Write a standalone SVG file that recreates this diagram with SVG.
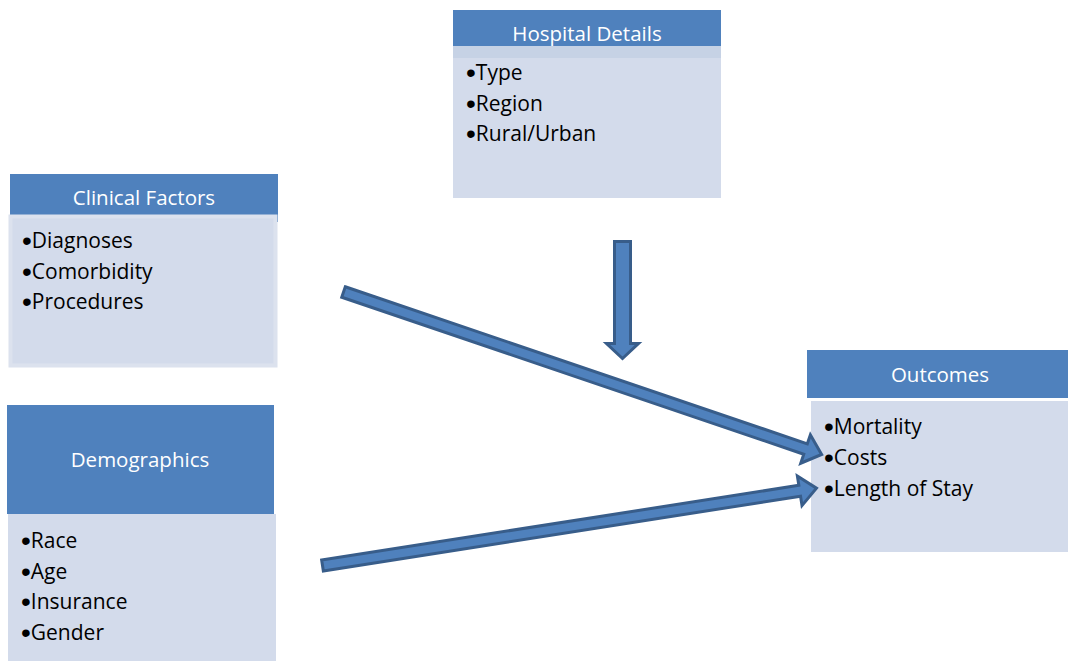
<svg xmlns="http://www.w3.org/2000/svg" width="1068" height="661" viewBox="0 0 1068 661">
  <style>
    .hdr { fill: #4F81BD; }
    .body { fill: #D3DBEB; }
    .title { font-family: "Open Sans", "Liberation Sans", sans-serif; font-size: 20.5px; fill: #FFFFFF; text-anchor: middle; }
    .item { font-family: "Open Sans", "Liberation Sans", sans-serif; font-size: 21px; fill: #000000; }
    .b { font-family: "Liberation Sans", sans-serif; font-size: 28px; }
    .arrow { fill: #4F81BD; stroke: #385D8A; stroke-width: 3; stroke-linejoin: miter; }
  </style>
  <rect width="1068" height="661" fill="#FFFFFF"/>

  <!-- Hospital Details -->
  <g id="hospital-details">
    <rect class="body" x="453" y="46" width="268" height="152"/>
    <rect x="453" y="46" width="268" height="12" fill="#C6D2E5"/>
    <rect class="hdr" x="453" y="10" width="268" height="36"/>
    <text class="title" x="587" y="41">Hospital Details</text>
    <text class="item" x="466" y="80"><tspan class="b" baseline-shift="-2">•</tspan>Type</text>
    <text class="item" x="466" y="111"><tspan class="b" baseline-shift="-2">•</tspan>Region</text>
    <text class="item" x="466" y="141"><tspan class="b" baseline-shift="-2">•</tspan>Rural/Urban</text>
  </g>

  <!-- Clinical Factors -->
  <g id="clinical-factors">
    <rect class="hdr" x="10" y="174" width="268" height="48"/>
    <rect class="body" x="10.5" y="216.5" width="265" height="149" stroke="#DCE2EE" stroke-width="4"/>
    <text class="title" x="144" y="205">Clinical Factors</text>
    <text class="item" x="22" y="248"><tspan class="b" baseline-shift="-2">•</tspan>Diagnoses</text>
    <text class="item" x="22" y="278.5"><tspan class="b" baseline-shift="-2">•</tspan>Comorbidity</text>
    <text class="item" x="22" y="309"><tspan class="b" baseline-shift="-2">•</tspan>Procedures</text>
  </g>

  <!-- Demographics -->
  <g id="demographics">
    <rect class="body" x="8" y="514" width="268" height="147"/>
    <rect class="hdr" x="7" y="405" width="267" height="109"/>
    <text class="title" x="140" y="467">Demographics</text>
    <text class="item" x="21" y="548"><tspan class="b" baseline-shift="-2">•</tspan>Race</text>
    <text class="item" x="21" y="578.5"><tspan class="b" baseline-shift="-2">•</tspan>Age</text>
    <text class="item" x="21" y="609"><tspan class="b" baseline-shift="-2">•</tspan>Insurance</text>
    <text class="item" x="21" y="639.5"><tspan class="b" baseline-shift="-2">•</tspan>Gender</text>
  </g>

  <!-- Outcomes -->
  <g id="outcomes">
    <rect class="body" x="811" y="401" width="257" height="151"/>
    <rect class="hdr" x="807" y="350" width="261" height="48"/>
    <text class="title" x="940" y="381.5">Outcomes</text>
    <text class="item" x="824" y="434"><tspan class="b" baseline-shift="-2">•</tspan>Mortality</text>
    <text class="item" x="824" y="465"><tspan class="b" baseline-shift="-2">•</tspan>Costs</text>
    <text class="item" x="824" y="496"><tspan class="b" baseline-shift="-2">•</tspan>Length of Stay</text>
  </g>

  <!-- Block arrows -->
  <g id="connectors">
    <!-- Hospital Details down to Outcomes -->
    <path class="arrow" d="M614.5,241.5 H630.5 V343.5 H638.5 L622.5,358.5 L606.5,343.5 H614.5 Z"/>
    <!-- Clinical Factors to Outcomes -->
    <path class="arrow" transform="translate(343.5,292) rotate(18.77)" d="M0,-5.5 H488 V-15 L505,0 L488,15 V5.5 H0 Z"/>
    <!-- Demographics to Outcomes -->
    <path class="arrow" transform="translate(322.5,565.5) rotate(-8.9)" d="M0,-5.5 H483 V-15 L500,0 L483,15 V5.5 H0 Z"/>
  </g>
</svg>
